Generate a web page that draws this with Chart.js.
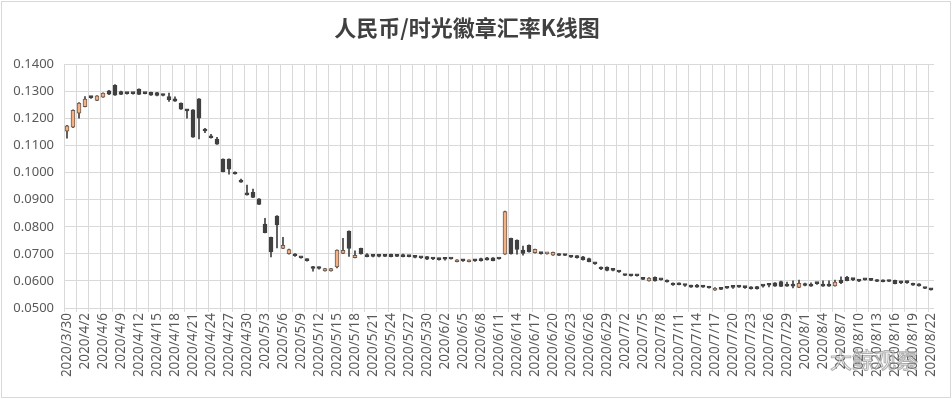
<!DOCTYPE html>
<html><head><meta charset="utf-8">
<script src="https://cdn.jsdelivr.net/npm/chart.js@4.4.0/dist/chart.umd.min.js"></script>
<style>html,body{margin:0;padding:0;background:#fff;overflow:hidden}#wrap{width:952px;height:399px}</style>
</head><body><div id="wrap"><canvas id="c" width="952" height="399"></canvas></div>
<script>
const dates = [
"2020/3/30","2020/3/31","2020/4/1","2020/4/2","2020/4/3","2020/4/5",
"2020/4/6","2020/4/7","2020/4/8","2020/4/9","2020/4/10","2020/4/11","2020/4/12","2020/4/13","2020/4/14","2020/4/15","2020/4/16","2020/4/17","2020/4/18","2020/4/19","2020/4/20","2020/4/21","2020/4/22","2020/4/23","2020/4/24","2020/4/25","2020/4/26","2020/4/27","2020/4/28","2020/4/29","2020/4/30",
"2020/5/1","2020/5/2","2020/5/3","2020/5/4","2020/5/5","2020/5/6","2020/5/7","2020/5/8","2020/5/9","2020/5/10","2020/5/11","2020/5/12","2020/5/13","2020/5/14","2020/5/15","2020/5/16","2020/5/17","2020/5/18","2020/5/19","2020/5/20","2020/5/21","2020/5/22","2020/5/23","2020/5/24","2020/5/25","2020/5/26","2020/5/27","2020/5/28","2020/5/29","2020/5/30","2020/5/31",
"2020/6/1","2020/6/2","2020/6/3","2020/6/4","2020/6/5","2020/6/6","2020/6/7","2020/6/8","2020/6/9","2020/6/10","2020/6/11","2020/6/12","2020/6/13","2020/6/14","2020/6/15","2020/6/16","2020/6/17","2020/6/18","2020/6/19","2020/6/20","2020/6/21","2020/6/22","2020/6/23","2020/6/24","2020/6/25","2020/6/26","2020/6/27","2020/6/28","2020/6/29","2020/6/30",
"2020/7/1","2020/7/2","2020/7/3","2020/7/4","2020/7/5","2020/7/6","2020/7/7","2020/7/8","2020/7/9","2020/7/10","2020/7/11","2020/7/12","2020/7/13","2020/7/14","2020/7/15","2020/7/16","2020/7/17","2020/7/18","2020/7/19","2020/7/20","2020/7/21","2020/7/22","2020/7/23","2020/7/24","2020/7/25","2020/7/26","2020/7/27","2020/7/28","2020/7/29","2020/7/30","2020/7/31",
"2020/8/1","2020/8/2","2020/8/3","2020/8/4","2020/8/5","2020/8/6","2020/8/7","2020/8/8","2020/8/9","2020/8/10","2020/8/11","2020/8/12","2020/8/13","2020/8/14","2020/8/15","2020/8/16","2020/8/17","2020/8/18","2020/8/19","2020/8/20","2020/8/21","2020/8/22"
];
const openP = [
.1153,.1168,.1220,.1244,.1279,.1267,.1279,.1302,.1323,.1300,
.1295,.1294,.1309,.1294,.1297,.1296,.1288,.1281,.1273,.1257,
.1232,.1232,.1273,.1158,.1133,.1124,.1050,.1050,.0997,.0967,
.0924,.0927,.0903,.0810,.0761,.0840,.0720,.0701,.0700,.0687,
.0677,.0648,.0648,.0637,.0637,.0652,.0702,.0784,.0686,.0720,
.0692,.0694,.0694,.0694,.0698,.0694,.0692,.0693,.0690,.0688,
.0690,.0684,.0683,.0681,.0682,.0671,.0678,.0671,.0678,.0683,
.0680,.0685,.0683,.0699,.0757,.0751,.0714,.0732,.0704,.0704,
.0700,.0695,.0700,.0697,.0694,.0688,.0689,.0683,.0666,.0651,
.0651,.0641,.0636,.0623,.0621,.0621,.0612,.0600,.0613,.0606,
.0603,.0587,.0592,.0586,.0584,.0579,.0583,.0576,.0566,.0571,
.0576,.0579,.0579,.0577,.0578,.0579,.0584,.0587,.0593,.0598,
.0584,.0584,.0576,.0585,.0584,.0594,.0587,.0587,.0582,.0603,
.0613,.0609,.0605,.0607,.0605,.0604,.0603,.0602,.0602,.0598,
.0598,.0591,.0589,.0575,.0571
];
const highP = [
.1175,.1232,.1259,.1281,.1282,.1285,.1295,.1304,.1325,.1301,
.1296,.1295,.1310,.1296,.1298,.1297,.1290,.1294,.1280,.1258,
.1233,.1233,.1274,.1164,.1142,.1131,.1051,.1051,.1003,.0976,
.0954,.0939,.0904,.0831,.0762,.0841,.0761,.0718,.0701,.0688,
.0682,.0654,.0652,.0647,.0647,.0715,.0757,.0785,.0711,.0721,
.0701,.0695,.0695,.0695,.0699,.0695,.0699,.0694,.0691,.0689,
.0691,.0685,.0684,.0685,.0683,.0679,.0679,.0678,.0679,.0684,
.0687,.0686,.0684,.0858,.0758,.0752,.0729,.0733,.0718,.0705,
.0705,.0707,.0701,.0698,.0695,.0694,.0691,.0684,.0667,.0652,
.0652,.0646,.0637,.0624,.0624,.0622,.0613,.0612,.0615,.0607,
.0604,.0593,.0593,.0587,.0585,.0587,.0584,.0580,.0575,.0573,
.0577,.0580,.0584,.0580,.0579,.0580,.0585,.0588,.0594,.0599,
.0596,.0600,.0603,.0592,.0593,.0595,.0600,.0600,.0603,.0615,
.0617,.0610,.0606,.0608,.0606,.0605,.0604,.0603,.0603,.0599,
.0599,.0592,.0590,.0576,.0572
];
const lowP = [
.1127,.1166,.1201,.1243,.1274,.1266,.1278,.1288,.1285,.1288,
.1290,.1290,.1288,.1291,.1285,.1284,.1284,.1263,.1263,.1234,
.1201,.1130,.1125,.1148,.1127,.1104,.1003,.0994,.0994,.0964,
.0917,.0908,.0882,.0777,.0689,.0722,.0719,.0699,.0691,.0684,
.0673,.0636,.0643,.0636,.0636,.0648,.0701,.0691,.0685,.0699,
.0689,.0689,.0689,.0690,.0689,.0690,.0689,.0689,.0685,.0683,
.0679,.0679,.0677,.0677,.0680,.0670,.0672,.0670,.0672,.0673,
.0677,.0674,.0680,.0698,.0699,.0699,.0695,.0706,.0703,.0699,
.0699,.0694,.0693,.0693,.0687,.0684,.0677,.0670,.0661,.0642,
.0637,.0637,.0631,.0619,.0618,.0618,.0605,.0599,.0599,.0603,
.0595,.0583,.0585,.0580,.0576,.0576,.0576,.0573,.0565,.0568,
.0572,.0572,.0576,.0572,.0570,.0570,.0577,.0578,.0580,.0579,
.0580,.0574,.0575,.0582,.0580,.0587,.0580,.0580,.0581,.0590,
.0600,.0601,.0597,.0603,.0601,.0597,.0596,.0597,.0589,.0590,
.0591,.0583,.0581,.0571,.0566
];
const closeP = [
.1173,.1230,.1257,.1272,.1277,.1284,.1294,.1290,.1286,.1289,
.1292,.1292,.1289,.1292,.1286,.1285,.1285,.1270,.1264,.1235,
.1228,.1131,.1201,.1154,.1129,.1105,.1004,.1013,.0995,.0965,
.0918,.0909,.0883,.0778,.0707,.0807,.0732,.0716,.0693,.0685,
.0675,.0646,.0646,.0646,.0646,.0714,.0713,.0720,.0695,.0700,
.0690,.0691,.0691,.0691,.0690,.0691,.0690,.0690,.0687,.0685,
.0680,.0681,.0679,.0680,.0681,.0678,.0674,.0677,.0674,.0675,
.0678,.0675,.0681,.0856,.0700,.0716,.0702,.0707,.0717,.0701,
.0703,.0706,.0694,.0694,.0688,.0686,.0679,.0671,.0663,.0644,
.0639,.0639,.0633,.0620,.0619,.0619,.0606,.0611,.0600,.0604,
.0596,.0585,.0586,.0583,.0577,.0577,.0577,.0574,.0574,.0569,
.0573,.0576,.0577,.0575,.0571,.0571,.0581,.0584,.0581,.0580,
.0581,.0581,.0591,.0583,.0581,.0590,.0581,.0581,.0596,.0594,
.0601,.0605,.0599,.0604,.0602,.0598,.0597,.0598,.0590,.0593,
.0594,.0584,.0582,.0572,.0567
];
const yMin = 0.05, yMax = 0.14, yStep = 0.01;
const titleText = "人民币/时光徽章汇率K线图";
const watermark = "大鲸观察";

const UP_FILL = '#F4B183', UP_LINE = '#6b5a50', DOWN_FILL = '#404040', WICK = '#404040';
const isUp = i => closeP[i] >= openP[i];

const bodies = dates.map((d, i) => [Math.min(openP[i], closeP[i]), Math.max(openP[i], closeP[i])]);
const wicks = dates.map((d, i) => [lowP[i], highP[i]]);

const frame = {
  id: 'frame',
  beforeDraw(chart) {
    const c = chart.ctx;
    c.save();
    c.fillStyle = '#fff';
    c.fillRect(0, 0, chart.width, chart.height);
    c.strokeStyle = '#d9d9d9';
    c.lineWidth = 1;
    c.strokeRect(1.5, 1.5, chart.width - 3, chart.height - 3);
    c.restore();
  },
  afterDraw(chart) {
    const c = chart.ctx;
    c.save();
    c.font = '22px "Noto Sans CJK SC"';
    c.textBaseline = 'middle';
    c.lineWidth = 1;
    c.strokeStyle = 'rgba(110,110,110,0.55)';
    c.fillStyle = 'rgba(255,255,255,0.6)';
    c.fillText(watermark, 830, 360);
    c.strokeText(watermark, 830, 360);
    c.restore();
  }
};

new Chart(document.getElementById('c'), {
  type: 'bar',
  data: {
    labels: dates,
    datasets: [
      {
        label: 'body', data: bodies, grouped: false, order: 0,
        barThickness: 4, minBarLength: 2, borderWidth: 1, borderSkipped: false,
        backgroundColor: c => isUp(c.dataIndex) ? UP_FILL : DOWN_FILL,
        borderColor: c => isUp(c.dataIndex) ? UP_LINE : DOWN_FILL
      },
      {
        label: 'wick', data: wicks, grouped: false, order: 1,
        barThickness: 1, borderWidth: 0, backgroundColor: WICK
      }
    ]
  },
  options: {
    responsive: false, animation: false, devicePixelRatio: 1,
    layout: { padding: { left: 0, right: 18, top: 0, bottom: 0 } },
    plugins: {
      legend: { display: false }, tooltip: { enabled: false },
      title: {
        display: true, text: titleText, color: '#404040',
        font: { family: '"Noto Sans CJK SC"', size: 22, weight: 'bold' },
        padding: { top: 14, bottom: 24 }
      }
    },
    scales: {
      x: {
        offset: true,
        grid: { offset: true, color: c => (c.index % 2 === 0 ? '#d9d9d9' : 'rgba(0,0,0,0)'), tickLength: 4 },
        border: { display: false },
        ticks: {
          autoSkip: false, maxRotation: 90, minRotation: 90, padding: 1, color: '#595959',
          font: { family: '"Noto Sans"', size: 13.5 },
          callback: function (v, i) { return i % 3 === 0 ? this.getLabelForValue(v) : ''; }
        },
        afterFit(s) { s.height = 91; }
      },
      y: {
        min: yMin, max: yMax,
        grid: { color: '#d9d9d9', drawTicks: false },
        border: { display: false },
        ticks: {
          stepSize: yStep, padding: 10, color: '#595959',
          font: { family: '"Noto Sans"', size: 13 },
          callback: v => v.toFixed(4)
        },
        afterFit(s) { s.width = 64; }
      }
    }
  },
  plugins: [frame]
});
</script>
</body></html>
